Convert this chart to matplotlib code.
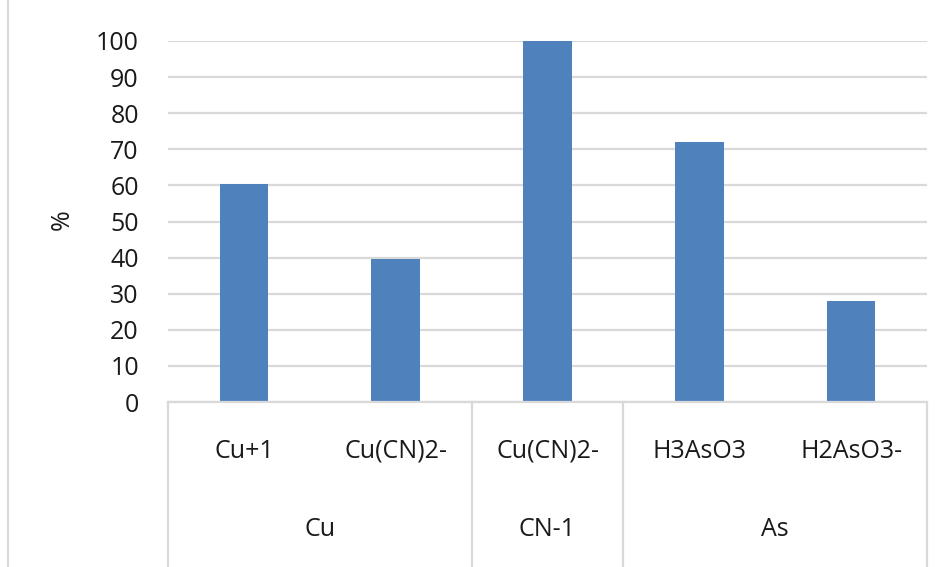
import matplotlib.pyplot as plt
from matplotlib.lines import Line2D
from matplotlib.transforms import blended_transform_factory

species = ["Cu+1", "Cu(CN)2-", "Cu(CN)2-", "H3AsO3", "H2AsO3-"]
values = [60.5, 39.5, 100, 72, 28]
groups = ["Cu", "CN-1", "As"]
group_sizes = [2, 1, 2]
yticks = [0, 10, 20, 30, 40, 50, 60, 70, 80, 90, 100]

plt.rcParams['font.family'] = ['Open Sans', 'DejaVu Sans']
TEXT = '#1a1a1a'
GRID = '#d9d9d9'
FS = 18

fig = plt.figure(figsize=(9.42, 5.67), dpi=100)
ax = fig.add_axes([168 / 942, 165 / 567, 759 / 942, 361 / 567])

x = list(range(len(species)))
ax.bar(x, values, width=0.32, color='#4F81BD', zorder=3)

ax.set_xlim(-0.5, len(species) - 0.5)
ax.set_ylim(0, 100)
ax.set_yticks(yticks)
ax.set_yticklabels([str(v) for v in yticks], fontsize=FS, color=TEXT)
ax.tick_params(axis='y', length=0, pad=21)
ax.set_xticks([])
ax.yaxis.grid(True, color=GRID, linewidth=1.6, zorder=0)
for s in ax.spines.values():
    s.set_visible(False)

# y axis title
fig.text(62 / 942, 1 - 220 / 567, '%', rotation=90, ha='center', va='center',
         fontsize=FS, color=TEXT)

# multi-level category axis
tr = blended_transform_factory(ax.transData, ax.transAxes)
ax.plot([-0.5, len(species) - 0.5], [0, 0], transform=tr, color=GRID,
        linewidth=1.6, clip_on=False, zorder=4)
for i, name in enumerate(species):
    ax.text(i, -0.136, name, transform=tr, ha='center', va='center',
            fontsize=FS, color=TEXT)

start = 0
bounds = [-0.5]
for g, n in zip(groups, group_sizes):
    mid = start + (n - 1) / 2
    ax.text(mid, -0.352, g, transform=tr, ha='center', va='center',
            fontsize=FS, color=TEXT)
    start += n
    bounds.append(start - 0.5)
for b in bounds:
    ax.plot([b, b], [0, -0.5], transform=tr, color=GRID, linewidth=1.6,
            clip_on=False, zorder=4)

# chart area border on the left
fig.add_artist(Line2D([7.5 / 942, 7.5 / 942], [0, 1], color=GRID, linewidth=1.6))

fig.savefig('out.png', dpi=100)
